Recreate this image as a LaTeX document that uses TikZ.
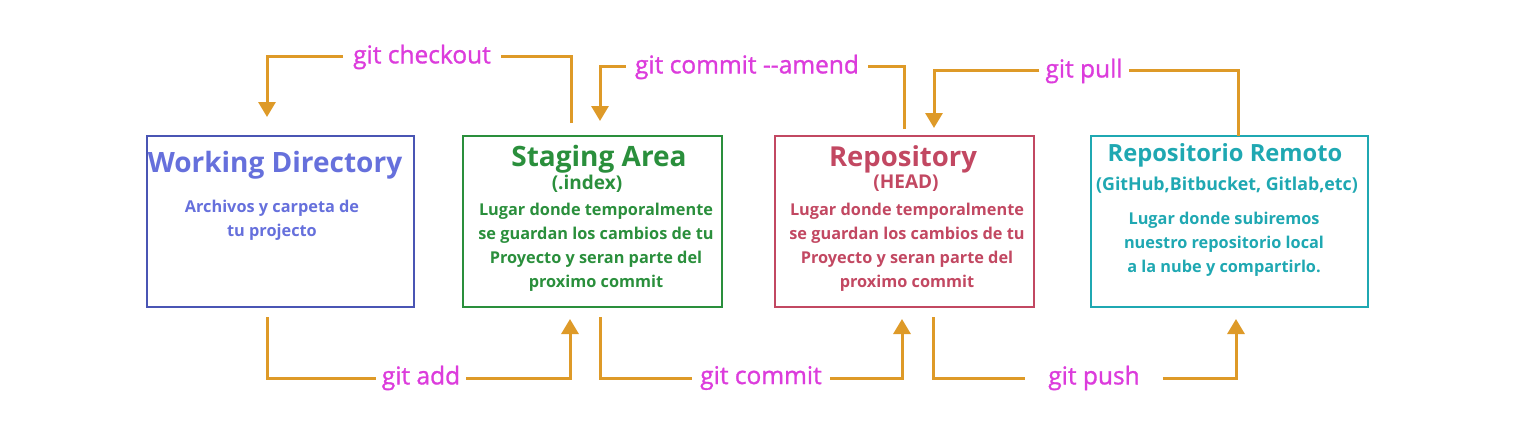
\documentclass[tikz,border=0pt]{standalone}
\usepackage{fontspec}
\setmainfont{Open Sans}
\newfontfamily\medfont{Open Sans}[FakeBold=1.2]
\usetikzlibrary{arrows.meta}
\definecolor{wdc}{HTML}{4A55B4}
\definecolor{wdt}{HTML}{6670DC}
\definecolor{sac}{HTML}{2A8F3C}
\definecolor{rpc}{HTML}{C24862}
\definecolor{rmc}{HTML}{1FA8B2}
\definecolor{arrc}{HTML}{DE9A28}
\definecolor{lblc}{HTML}{DC3CDC}
\tikzset{
  stagebox/.style args={#1/#2/#3}{draw=#1, line width=1.6pt, minimum width=#2, minimum height=#3, inner sep=0pt},
  ttl/.style={text=#1, font=\bfseries\fontsize{28}{32}\selectfont, inner sep=0pt},
  sub/.style={text=#1, font=\bfseries\fontsize{19}{22}\selectfont, inner sep=0pt},
  bodytxt/.style={text=#1, font=\fontsize{16.3}{24}\selectfont\bfseries, align=center, inner sep=0pt},
  lbl/.style={text=lblc, font=\medfont\fontsize{24.5}{28}\selectfont, inner ysep=0pt, inner xsep=#1},
  lbl/.default=8pt,
  conn/.style={draw=arrc, line width=3pt},
  arr/.style={conn, -{Triangle[width=17pt,length=15pt]}}
}
\begin{document}
\begin{tikzpicture}[x=1pt,y=-1pt]
\useasboundingbox (0,0) rectangle (1515,444);
% boxes
\node[stagebox=wdc/267/171] (wd) at (280.5,221.5) {};
\node[stagebox=sac/259/171] (sa) at (592.5,221.5) {};
\node[stagebox=rpc/259/171] (rp) at (904.5,221.5) {};
\node[stagebox=rmc/277/171] (rm) at (1229.5,221.5) {};
% working directory text
\node[ttl=wdt] (wdt1) at (275,165) {Working Directory};
\node[bodytxt=wdt] (wdb) at (272,220) {Archivos y carpeta de\\tu projecto};
% staging text
\node[ttl=sac] (sat1) at (599,159) {Staging Area};
\node[sub=sac] (sat2) at (587,184) {(.index)};
\node[bodytxt=sac] (sab) at (596,247) {Lugar donde temporalmente\\se guardan los cambios de tu\\Proyecto y seran parte del\\proximo commit};
% repository text
\node[ttl=rpc, font=\bfseries\fontsize{27.5}{32}\selectfont] (rpt1) at (903,159) {Repository};
\node[sub=rpc] (rpt2) at (906,183) {(HEAD)};
\node[bodytxt=rpc] (rpb) at (907,247) {Lugar donde temporalmente\\se guardan los cambios de tu\\Proyecto y seran parte del\\proximo commit};
% remote text
\node[ttl=rmc, font=\bfseries\fontsize{23.7}{28}\selectfont] (rmt1) at (1225,155) {Repositorio Remoto};
\node[sub=rmc, font=\bfseries\fontsize{17.8}{20}\selectfont] (rmt2) at (1227,185) {(GitHub,Bitbucket, Gitlab,etc)};
\node[bodytxt=rmc] (rmb) at (1224,244) {Lugar donde subiremos\\nuestro repositorio local\\a la nube y compartirlo.};
% labels
\node[lbl=10pt] (lchk) at (422,57) {git checkout};
\node[lbl=9pt] (lam) at (747,67) {git commit -{}-amend};
\node[lbl=6pt] (lpl) at (1084,71) {git pull};
\node[lbl=6pt] (ladd) at (421,378) {git add};
\node[lbl=8pt] (lcm) at (761,378) {git commit};
\node[lbl=23pt] (lps) at (1094,378) {git push};
% connector endpoints
\coordinate (chkS) at (571,123);
\coordinate (chkE) at (267,117);
\coordinate (amS) at (904,129);
\coordinate (amE) at (600,121);
\coordinate (plS) at (1238,136);
\coordinate (plE) at (934,128);
\coordinate (addS) at (267,317);
\coordinate (addE) at (570,319);
\coordinate (cmS) at (600,317);
\coordinate (cmE) at (902,319);
\coordinate (psS) at (933,317);
\coordinate (psE) at (1236,319);
% connectors
\draw[conn] (chkS) |- (lchk.east);
\draw[arr] (lchk.west) -| (chkE);
\draw[conn] (amS) |- (lam.east);
\draw[arr] (lam.west) -| (amE);
\draw[conn] (plS) |- (lpl.east);
\draw[arr] (lpl.west) -| (plE);
\draw[conn] (addS) |- (ladd.west);
\draw[arr] (ladd.east) -| (addE);
\draw[conn] (cmS) |- (lcm.west);
\draw[arr] (lcm.east) -| (cmE);
\draw[conn] (psS) |- (lps.west);
\draw[arr] (lps.east) -| (psE);
\end{tikzpicture}
\end{document}
